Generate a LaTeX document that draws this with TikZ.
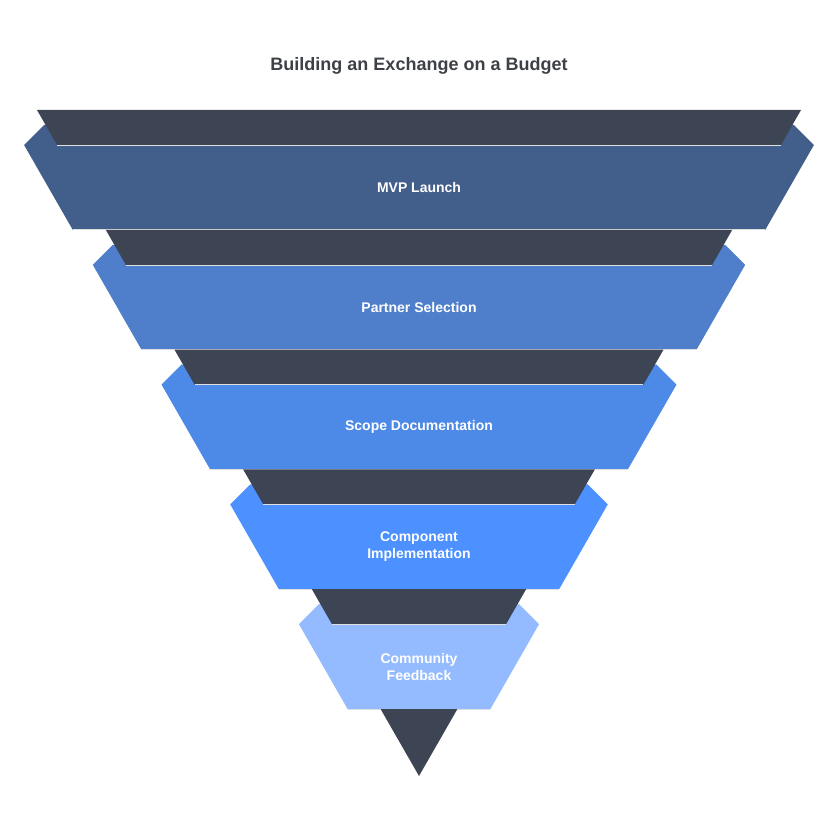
\documentclass[tikz,border=0pt]{standalone}
\usepackage{fontspec}
\setmainfont{Liberation Sans}
\definecolor{dark}{HTML}{3D4555}
\definecolor{cA}{HTML}{425E8A}
\definecolor{cB}{HTML}{4F7FCB}
\definecolor{cC}{HTML}{4D89E6}
\definecolor{cD}{HTML}{4C91FF}
\definecolor{cE}{HTML}{94BBFF}
\definecolor{titlec}{HTML}{3D4046}
\tikzset{band/.style={draw=white!75!gray,line width=0.6pt},
 darkband/.style={fill=dark,draw=white!75!gray,line width=0.6pt},
 lab/.style={text=white,font=\bfseries\fontsize{14}{17}\selectfont,align=center}}
\begin{document}
\begin{tikzpicture}[x=1pt,y=-1pt]
\useasboundingbox (0,0) rectangle (838,829);
\node[text=titlec,font=\bfseries\fontsize{18}{22}\selectfont] (title) at (419,66) {Building an Exchange on a Budget};
\foreach \T/\c in {110/cA,229.8/cB,349.6/cC,469.4/cD,589.2/cE}{
 \pgfmathsetmacro\ya{\T+15}
 \pgfmathsetmacro\yb{\T+35}
 \pgfmathsetmacro\yc{\T+119.8}
 \pgfmathsetmacro\lb{37+0.5736*(\yb-110)-33}
 \pgfmathsetmacro\lc{37+0.5736*(\yc-110)-33}
 \pgfmathsetmacro\la{\lb+20}
 \pgfmathsetmacro\rb{838-\lb}
 \pgfmathsetmacro\rc{838-\lc}
 \pgfmathsetmacro\ra{838-\la}
 \fill[\c] (\la,\ya) -- (\lb,\yb) -- (\lc,\yc) -- (\rc,\yc) -- (\rb,\yb) -- (\ra,\ya) -- cycle;
 \draw[band] (\lc,\yc) -- (\rc,\yc);
 \pgfmathsetmacro\dl{37+0.5736*(\T-110)}
 \pgfmathsetmacro\dm{37+0.5736*(\yb-110)}
 \pgfmathsetmacro\dr{838-\dl}
 \pgfmathsetmacro\dn{838-\dm}
 \fill[dark] (\dl,\T) -- (\dm,\yb) -- (\dn,\yb) -- (\dr,\T) -- cycle;
 \draw[band] (\dm,\yb) -- (\dn,\yb);
}
\pgfmathsetmacro\dl{37+0.5736*(709-110)}
\fill[dark] (\dl,709) -- (419,776) -- (838-\dl,709) -- cycle;
\node[lab] (n1) at (419,187) {MVP Launch};
\node[lab] (n2) at (419,307) {Partner Selection};
\node[lab] (n3) at (419,427) {Scope Documentation};
\node[lab] (n4) at (419,547) {Component\\Implementation};
\node[lab] (n5) at (419,667) {Community\\Feedback};
\end{tikzpicture}
\end{document}
